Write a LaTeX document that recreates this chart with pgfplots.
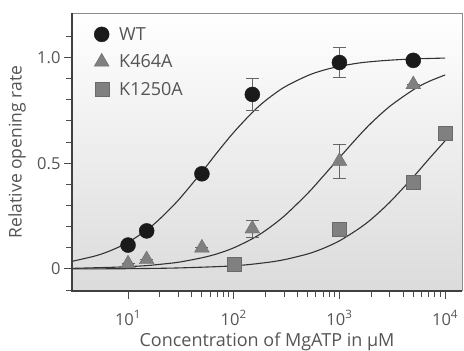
\documentclass[border=0pt]{standalone}
\usepackage{pgfplots}
\pgfplotsset{compat=1.18}
\usepackage{fontspec}
\setmainfont{Open Sans}
\definecolor{txt}{HTML}{555555}
\definecolor{wt}{HTML}{1A1A1A}
\definecolor{kg}{HTML}{808080}
\definecolor{kge}{HTML}{6A6A6A}
\definecolor{crv}{HTML}{333333}
\begin{document}
\begin{tikzpicture}
\begin{axis}[
  scale only axis, width=390pt, height=278pt,
  xmode=log, xmin=2.95, xmax=14450, ymin=-0.104, ymax=1.21,
  axis line style={draw=none},
  axis background/.style={top color=white, bottom color=black!14},
  xtick={10,100,1000,10000},
  xticklabels={10\textsuperscript{1},10\textsuperscript{2},10\textsuperscript{3},10\textsuperscript{4}},
  minor xtick={},
  ytick={0,0.5,1.0}, yticklabels={0,0.5,1.0},
  minor ytick={-0.1,0.1,0.2,0.3,0.4,0.6,0.7,0.8,0.9,1.1},
  xtick pos=bottom, ytick pos=left,
  tick align=outside,
  major tick length=8pt, minor tick length=6pt,
  every tick/.style={draw=black!70, line width=1pt},
  tick label style={font=\fontsize{16.5}{19}\selectfont, text=txt},
  yticklabel style={xshift=0pt},
  xticklabel style={yshift=-8pt},
  xlabel={Concentration of MgATP in µM},
  ylabel={Relative opening rate},
  every axis x label/.style={font=\fontsize{18}{20}\selectfont, text=txt, at={(axis description cs:0.5,0)}, anchor=center, yshift=-50.5pt},
  every axis y label/.style={font=\fontsize{17.5}{19}\selectfont, text=txt, at={(axis description cs:0,0.5)}, xshift=-55pt, anchor=center, rotate=90},
  legend style={at={(axis description cs:0,1)}, anchor=north west, xshift=19pt, yshift=-10pt,
    draw=none, fill=none, font=\fontsize{18}{20}\selectfont, text=txt, row sep=9pt, column sep=8pt},
  legend cell align=left,
  clip=false,
]
% fitted curves
\addplot[crv, line width=1.1pt, smooth, forget plot] coordinates {
 (3,0.037) (5,0.063) (7,0.089) (10,0.126) (15,0.184) (20,0.237) (30,0.326) (50,0.459) (70,0.552)
 (100,0.646) (150,0.740) (200,0.796) (300,0.859) (500,0.914) (700,0.939) (1000,0.958) (1500,0.973)
 (2000,0.980) (3000,0.987) (5000,0.993) (7000,0.995) (10000,0.997)};
\addplot[crv, line width=1.1pt, smooth, forget plot] coordinates {
 (3,0.003) (5,0.006) (7,0.008) (10,0.011) (15,0.016) (20,0.022) (30,0.032) (50,0.053) (70,0.072)
 (100,0.100) (150,0.143) (200,0.182) (300,0.250) (500,0.357) (700,0.438) (1000,0.526) (1500,0.625)
 (2000,0.690) (3000,0.769) (5000,0.847) (7000,0.886) (10000,0.917)};
\addplot[crv, line width=1.1pt, smooth, forget plot] coordinates {
 (3,0.0005) (10,0.0015) (30,0.005) (100,0.015) (200,0.030) (300,0.044) (500,0.071) (700,0.097)
 (1000,0.133) (1500,0.188) (2000,0.235) (3000,0.316) (5000,0.435) (7000,0.519) (10000,0.606)};
% data
\addplot[only marks, mark=*, mark size=7.5pt, mark options={draw=wt, fill=wt},
  error bars/.cd, y dir=both, y explicit, error mark=-,
  error bar style={black!60, line width=1pt}, error mark options={rotate=90, mark size=6.5pt, black!60, line width=1pt}]
  coordinates {(10,0.113) +- (0,0) (15,0.18) +- (0,0) (50,0.45) +- (0,0) (150,0.825) +- (0,0.075)
               (1000,0.976) +- (0,0.07) (5000,0.986) +- (0,0)};
\addlegendentry{WT}
\addplot[only marks, mark=triangle*, mark size=8.5pt, mark options={draw=kge, fill=kg},
  error bars/.cd, y dir=both, y explicit, error mark=-,
  error bar style={black!60, line width=1pt}, error mark options={rotate=90, mark size=6.5pt, black!60, line width=1pt}]
  coordinates {(10,0.025) +- (0,0) (15,0.045) +- (0,0) (50,0.10) +- (0,0) (150,0.19) +- (0,0.04)
               (1000,0.51) +- (0,0.08) (5000,0.872) +- (0,0)};
\addlegendentry{K464A}
\addplot[only marks, mark=square*, mark size=7pt, mark options={draw=kge, fill=kg},
  error bars/.cd, y dir=both, y explicit, error mark=-,
  error bar style={black!60, line width=1pt}, error mark options={rotate=90, mark size=6.5pt, black!60, line width=1pt}]
  coordinates {(100,0.024) +- (0,0) (1000,0.19) +- (0,0) (5000,0.41) +- (0,0) (10000,0.64) +- (0,0.03)};
\addlegendentry{K1250A}
\end{axis}
\draw[black!45, line width=0.9pt] (current axis.north west) -- (current axis.north east) -- (current axis.south east);
\draw[black!75, line width=1.4pt] (current axis.north west) -- (current axis.south west) -- (current axis.south east);
\pgfresetboundingbox
\path[use as bounding box] ([shift={(-72pt,-59pt)}]current axis.south west) rectangle ([shift={(2pt,13pt)}]current axis.north east);
\end{tikzpicture}
\end{document}
